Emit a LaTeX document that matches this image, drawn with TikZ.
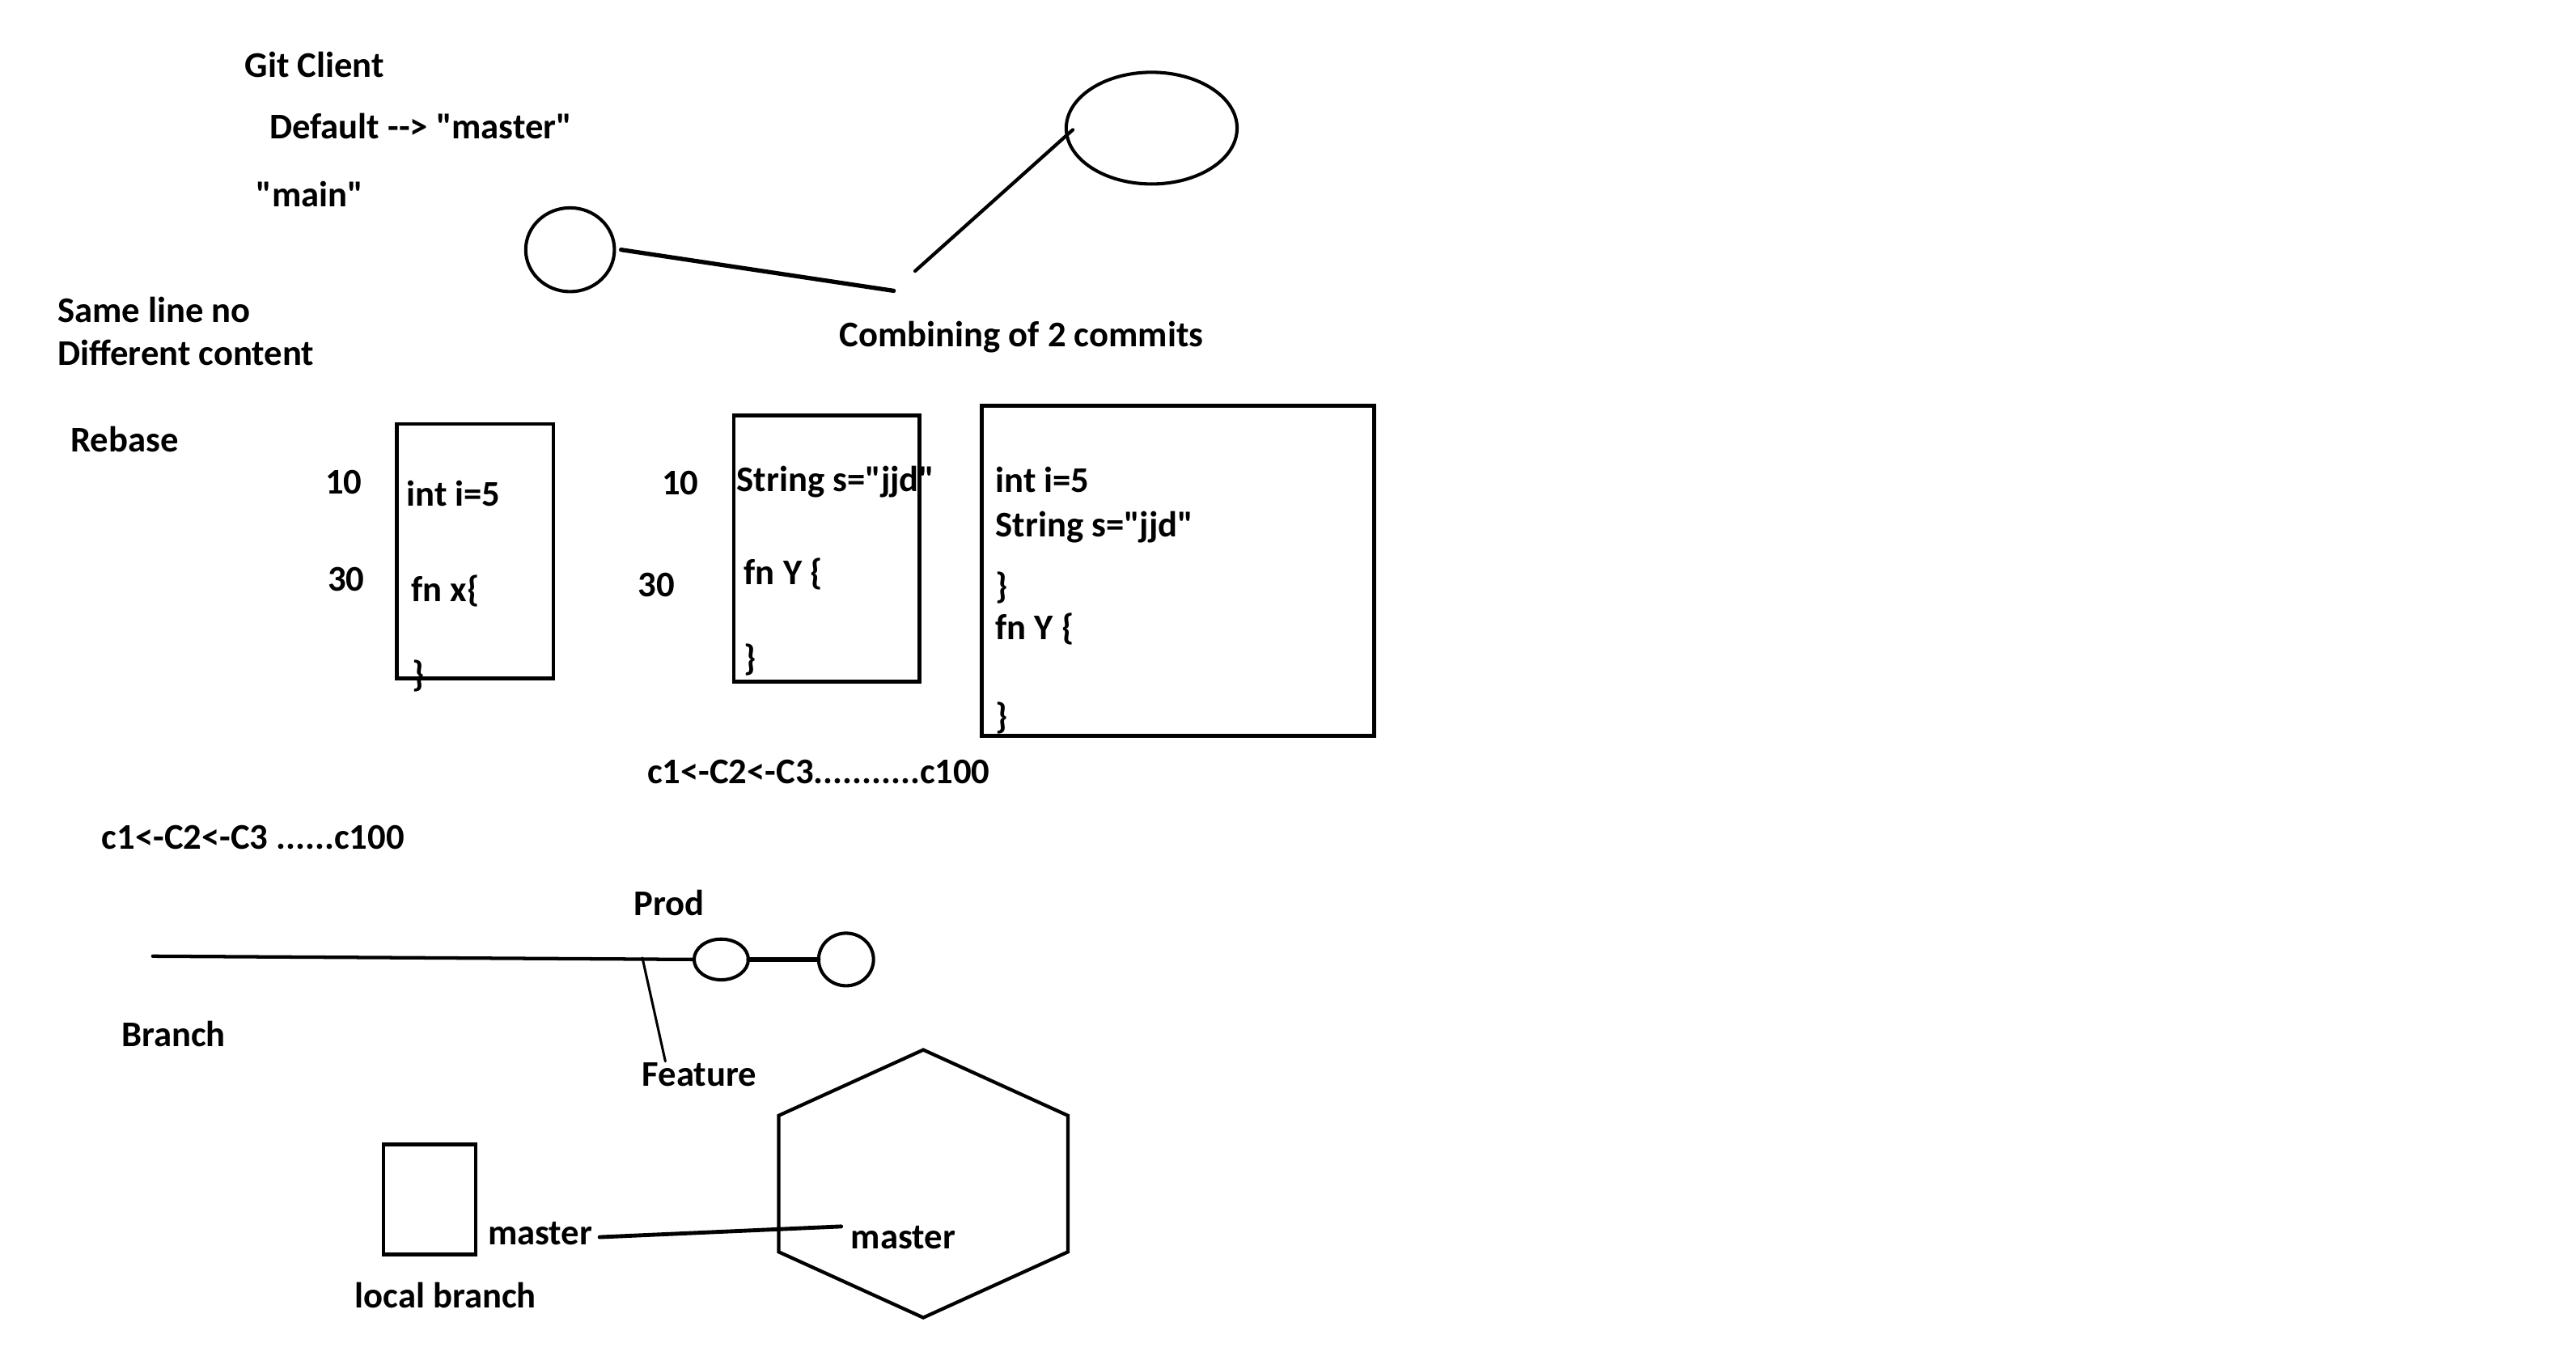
\documentclass[tikz,border=0pt]{standalone}
\usepackage{fontspec}
\setmainfont{Carlito}[Ligatures=TeXOff]
\usetikzlibrary{shapes.geometric}
\begin{document}
\begin{tikzpicture}[x=0.5pt,y=-0.5pt,
  every node/.style={inner sep=0pt,outer sep=0pt},
  lbl/.style={anchor=base west,font=\fontsize{11}{13}\bfseries\selectfont},
  ln/.style={line width=1.05pt,line cap=round},
  thinln/.style={line width=0.75pt,line cap=round},
  codebox/.style={draw,line width=1.15pt,rectangle},
  ring/.style={draw,line width=1pt,ellipse}]
\useasboundingbox (0,0) rectangle (1568,825);
% top labels
\node[lbl] (gitclient) at (149,47) {Git Client};
\node[lbl] (default) at (164,84.5) {Default --> "master"};
\node[lbl] (main) at (156,126) {"main"};
\node[lbl] (sameline) at (35,196) {Same line no};
\node[lbl] (different) at (35,222.5) {Different content};
\node[lbl] (combining) at (511,211) {Combining of 2 commits};
\node[lbl] (rebase) at (43,275) {Rebase};
% commit circles top
\node[ring,minimum width=27pt,minimum height=25.5pt] (small) at (347,152) {};
\node[ring,minimum width=52pt,minimum height=34pt] (big) at (701,78) {};
\coordinate (s1) at (378,152);
\coordinate (s2) at (544,177);
\coordinate (s3) at (557,165);
\coordinate (s4) at (653,79);
\draw[ln,line width=1.3pt] (s1) -- (s2);
\draw[ln] (s3) -- (s4);
% box 1
\node[lbl] (n10a) at (198,300.5) {10};
\node[lbl] (n30a) at (199.5,359.5) {30};
\node[codebox,minimum width=47.6pt,minimum height=77.5pt] (box1) at (289.2,335.5) {};
\node[lbl] (b1l1) at (247.5,308) {int i=5};
\node[lbl] (b1l2) at (250.5,366) {fn x\{};
\node[lbl] (b1l3) at (251,418) {\}};
% box 2
\node[lbl] (n10b) at (403,301) {10};
\node[lbl] (n30b) at (388.5,363) {30};
\node[codebox,minimum width=56.5pt,minimum height=81pt] (box2) at (503.1,334) {};
\node[lbl] (b2l1) at (448.5,299) {String s="jjd"};
\node[lbl] (b2l2) at (453,356) {fn Y \{};
\node[lbl] (b2l3) at (453,408) {\}};
% box 3
\node[codebox,minimum width=119.5pt,minimum height=100.5pt] (box3) at (717,347.5) {};
\node[lbl] (b3l1) at (606,299.5) {int i=5};
\node[lbl] (b3l2) at (606,326.5) {String s="jjd"};
\node[lbl] (b3l3) at (606,364) {\}};
\node[lbl] (b3l4) at (606,389.5) {fn Y \{};
\node[lbl] (b3l5) at (606,443.5) {\}};
% commit chains
\node[lbl] (chain1) at (394,477) {c1<-C2<-C3...........c100};
\node[lbl] (chain2) at (62,517) {c1<-C2<-C3 ......c100};
% branch diagram
\node[lbl] (prod) at (386,557) {Prod};
\node[ring,minimum width=16.5pt,minimum height=12.4pt] (cm1) at (439,584) {};
\node[ring,minimum width=16.7pt,minimum height=16pt] (cm2) at (515,584) {};
\coordinate (br0) at (93,582);
\coordinate (bp) at (391,583);
\coordinate (fe) at (405,646);
\draw[ln] (br0) -- (cm1.west);
\draw[ln,line width=1.3pt] (cm1.east) -- (cm2.west);
\draw[thinln] (bp) -- (fe);
\node[lbl] (branch) at (74,637) {Branch};
\node[lbl] (feature) at (391,661) {Feature};
% local / remote
\node[codebox,minimum width=28pt,minimum height=33.5pt] (local) at (261.5,730) {};
\node[lbl] (masterl) at (297,757.5) {master};
\node[lbl] (localbranch) at (216,796) {local branch};
\coordinate (h1) at (562,639);
\coordinate (h2) at (650,679);
\coordinate (h3) at (650,762);
\coordinate (h4) at (562,802);
\coordinate (h5) at (474,762);
\coordinate (h6) at (474,679);
\draw[line width=1.05pt] (h1) -- (h2) -- (h3) -- (h4) -- (h5) -- (h6) -- cycle;
\node[lbl] (masterr) at (518,760) {master};
\coordinate (m1) at (365,753);
\coordinate (m2) at (512,746.5);
\draw[ln,line width=1.2pt] (m1) -- (m2);
\end{tikzpicture}
\end{document}
